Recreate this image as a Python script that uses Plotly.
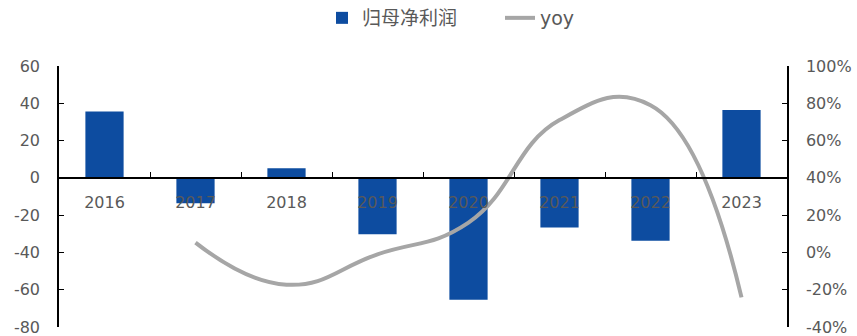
import plotly.graph_objects as go

# Annual net profit attributable to parent (left axis) and YoY change (right axis, %)
years = ["2016", "2017", "2018", "2019", "2020", "2021", "2022", "2023"]
net_profit = [35.6, -13.6, 5.2, -30.2, -65.4, -26.6, -33.8, 36.4]
yoy_years = ["2017", "2018", "2019", "2020", "2021", "2022", "2023"]
yoy_pct = [5.3, -17.3, -1.0, 16.0, 71.0, 79.0, -24.1]

left_ticks = [60, 40, 20, 0, -20, -40, -60, -80]
right_ticks = [100, 80, 60, 40, 20, 0, -20, -40]

FONT = "'DejaVu Sans', 'Noto Sans CJK SC', sans-serif"
GREY_TEXT = "#595959"
W, H = 857, 336

fig = go.Figure()
fig.add_trace(go.Bar(
    x=years, y=net_profit, name="归母净利润",
    marker=dict(color="#0D4CA0", line=dict(width=0)),
    width=0.42, yaxis="y", legend="legend",
))
fig.add_trace(go.Scatter(
    x=yoy_years, y=yoy_pct, name="yoy", mode="lines",
    line=dict(color="#A6A6A6", width=4, shape="spline", smoothing=1.3),
    yaxis="y2", legend="legend2",
))

zero_pos = 80 / 140  # where 0 sits on the left axis range

axis_common = dict(
    showline=True, linecolor="black", linewidth=1.5,
    ticks="inside", ticklen=5, tickcolor="black",
    showgrid=False, zeroline=False, automargin=False,
    ticklabeloverflow="allow",
    tickfont=dict(size=16, color=GREY_TEXT),
)

legend_common = dict(
    orientation="h", xanchor="left", yanchor="middle",
    xref="container", yref="container", y=1 - 18 / H,
    font=dict(size=19, color=GREY_TEXT), bgcolor="rgba(0,0,0,0)",
)

fig.update_layout(
    width=W, height=H,
    margin=dict(l=59, r=70, t=66, b=9, autoexpand=False),
    paper_bgcolor="white", plot_bgcolor="white",
    font=dict(family=FONT, size=16, color=GREY_TEXT),
    showlegend=True,
    legend=dict(x=322 / W, **legend_common),
    legend2=dict(x=500 / W, **legend_common),
    xaxis=dict(
        type="category", categoryorder="array", categoryarray=years,
        anchor="free", position=zero_pos, tickson="boundaries",
        ticklabelstandoff=10, **axis_common,
    ),
    yaxis=dict(
        range=[-80, 60], tickvals=left_ticks, ticktext=[str(v) for v in left_ticks],
        ticklabelstandoff=14, **axis_common,
    ),
    yaxis2=dict(
        range=[-40, 100], overlaying="y", side="right",
        tickvals=right_ticks, ticktext=[f"{v}%" for v in right_ticks],
        ticklabelstandoff=14, **axis_common,
    ),
)

fig.write_html("out.html")
